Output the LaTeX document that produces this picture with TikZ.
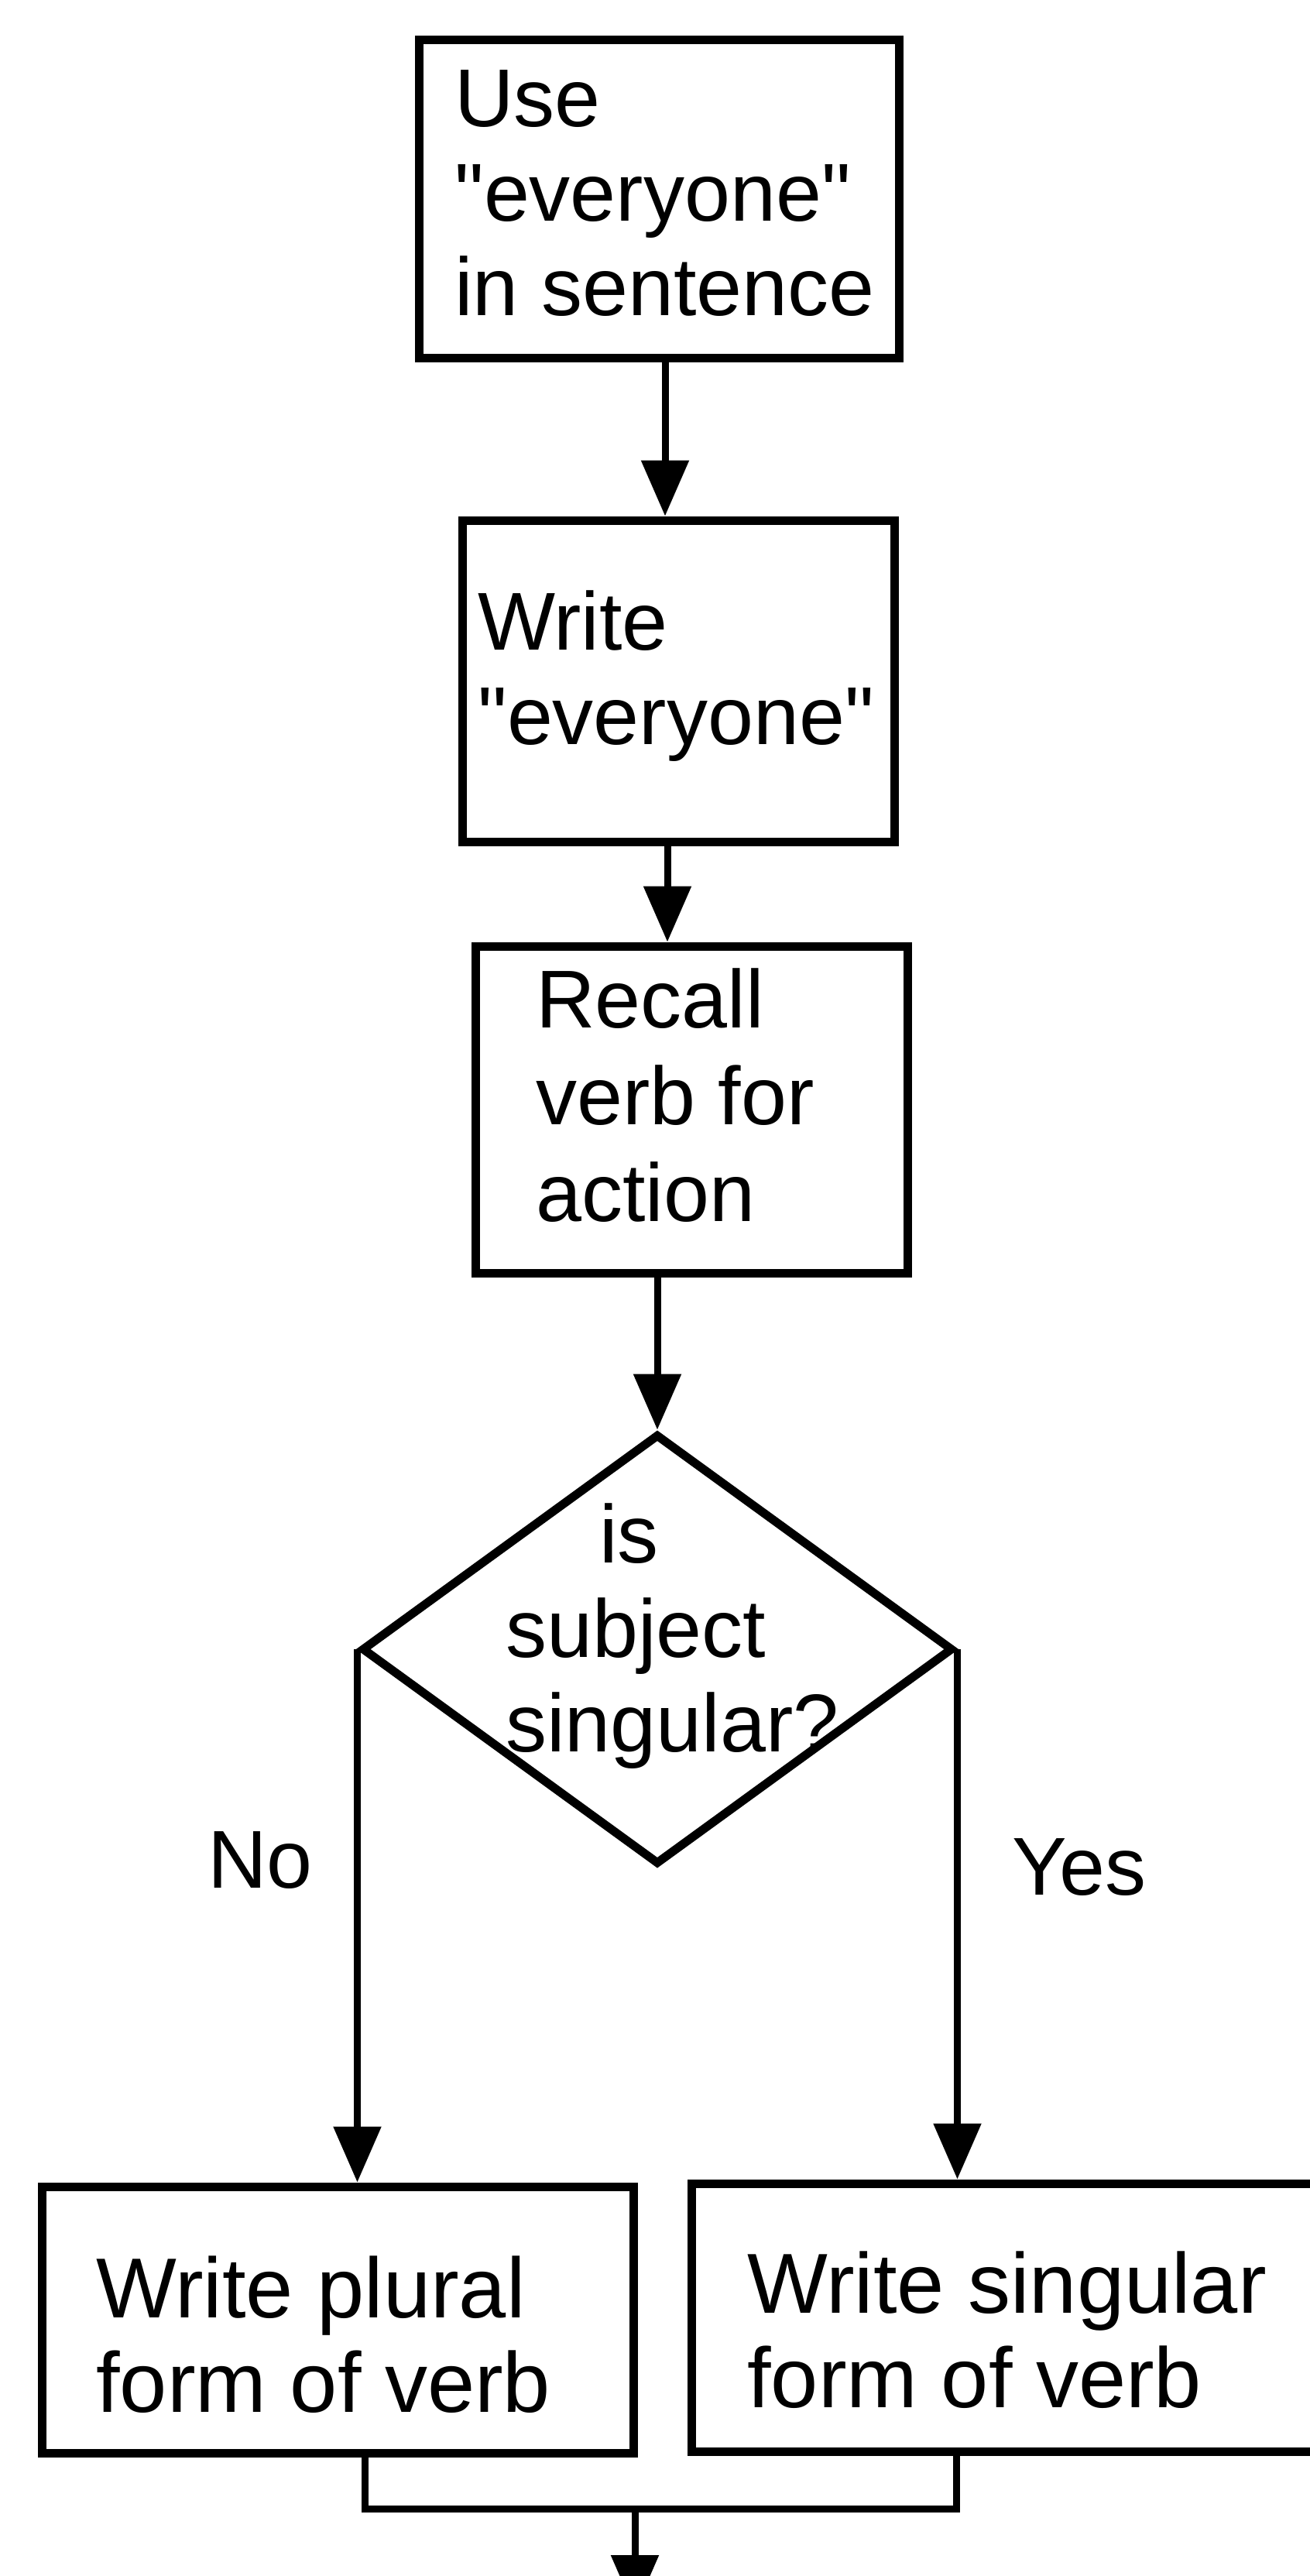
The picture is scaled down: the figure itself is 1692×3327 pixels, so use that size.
\documentclass[tikz,border=0pt]{standalone}
\usepackage{fontspec}
\setmainfont{Liberation Sans}[Ligatures=TeXOff]
\usetikzlibrary{shapes.geometric,arrows.meta}
\newdimen\unitpx \unitpx=0.5pt
\newcommand\lineblock[1]{\begin{tabular}[t]{@{}l@{}}#1\end{tabular}}
\begin{document}
\begin{tikzpicture}[x=0.5pt,y=-0.5pt,
  boxshape/.style={draw, line width=5.5pt, rectangle, inner sep=0pt},
  decision/.style={draw, line width=5.5pt, diamond, inner sep=0pt},
  flow/.style={line width=4.5pt, -{Triangle[length=36pt,width=30pt]}},
  plainline/.style={line width=4.5pt},
  txt/.style={inner sep=0pt, anchor=base west, font=\fontsize{53}{61}\selectfont},
  txtwide/.style={txt, font=\fontsize{55}{61}\selectfont},
]
\useasboundingbox (0,0) rectangle (1692,3327);

% boxes
\node[boxshape, minimum width=620\unitpx, minimum height=411\unitpx] (b1) at (851,256.5) {};
\node[boxshape, minimum width=558\unitpx, minimum height=415\unitpx] (b2) at (876,879.5) {};
\node[boxshape, minimum width=558\unitpx, minimum height=422\unitpx] (b3) at (893,1433) {};
\node[decision, minimum width=764\unitpx, minimum height=556\unitpx] (dec) at (849,2130) {};
\node[boxshape, minimum width=764\unitpx, minimum height=344\unitpx] (b4) at (436,2996) {};
\node[boxshape, minimum width=817\unitpx, minimum height=346\unitpx] (b5) at (1301.5,2993) {};

% box texts
\node[txt] (t1) at (587,163) {\lineblock{Use\\"everyone"\\in sentence}};
\node[txt] (t2) at (617,839) {\lineblock{Write\\"everyone"}};
\node[txt, font=\fontsize{53}{62.5}\selectfont] (t3) at (692,1327) {\lineblock{Recall\\verb for\\action}};
\node[txt] (t4) at (653,2018) {\lineblock{\hspace*{60.5pt}is\\subject\\singular?}};
\node[txtwide] (t5) at (124,2993) {\lineblock{Write plural\\form of verb}};
\node[txtwide] (t6) at (965,2987) {\lineblock{Write singular\\form of verb}};

% branch labels
\node[txt] (no) at (268,2438) {No};
\node[txt] (yes) at (1307,2447) {Yes};

% connector positions
\coordinate (x1) at (859,0);
\coordinate (x2) at (862,0);
\coordinate (mL) at (471,3240);
\coordinate (mR) at (1235,3240);
\coordinate (mC) at (820,3240);
\coordinate (out) at (820,3372);

% connectors
\draw[flow] (b1.south -| x1) -- (b2.north -| x1);
\draw[flow] (b2.south -| x2) -- (b3.north -| x2);
\draw[flow] (b3.south -| dec.north) -- (dec.north);
\draw[flow] (dec.west) -- (dec.west |- b4.north);
\draw[flow] (dec.east) -- (dec.east |- b5.north);
\draw[plainline] (b4.south -| mL) -- (mL) -- (mR) -- (b5.south -| mR);
\draw[flow] (mC) -- (out);
\end{tikzpicture}
\end{document}
